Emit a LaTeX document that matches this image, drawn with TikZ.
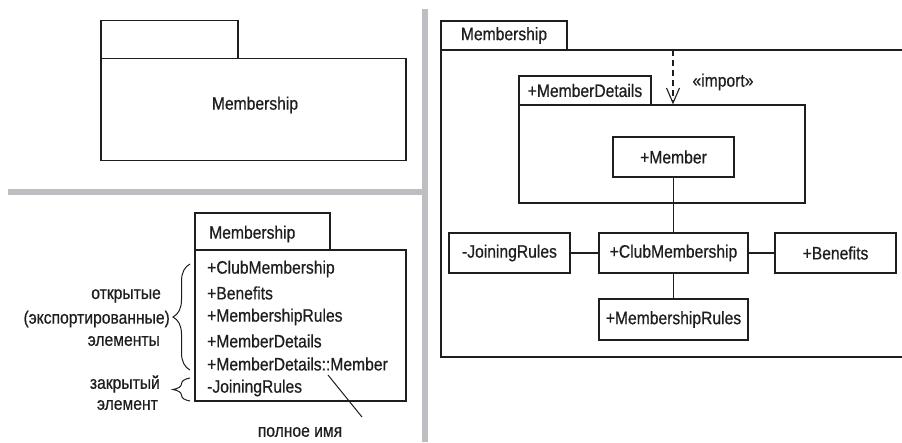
\documentclass[tikz,border=0pt]{standalone}
\usepackage{fontspec}
\setmainfont{Liberation Sans}[FakeStretch=0.87,FakeBold=0.6]
\usetikzlibrary{arrows.meta,decorations.pathreplacing}
\definecolor{ink}{HTML}{1E1E1E}
\definecolor{bar}{HTML}{BDBEC1}
\begin{document}
\begin{tikzpicture}[x=1pt,y=-1pt,
  every node/.style={text=ink,font=\fontsize{18}{21}\selectfont},
  box/.style={draw=ink,line width=1.3pt,fill=white,inner sep=0pt,minimum width=#1,minimum height=40pt},
  rect/.style 2 args={draw=ink,line width=1.3pt,inner sep=0pt,minimum width=#1,minimum height=#2},
  lbl/.style={inner sep=0pt},
  conn/.style={draw=ink,line width=1.2pt},
  bracestyle/.style={draw=ink,line width=1pt,decorate,decoration={brace,amplitude=17pt}}]
\useasboundingbox (0,0) rectangle (902,442);
% gray separators
\fill[bar] (422,9) rectangle (428,442);
\fill[bar] (8,189) rectangle (425,195);

% ---- top-left package
\node[rect={137pt}{38pt}] (tlTab) at (169.5,39.5) {};
\node[rect={305pt}{102pt}] (tlBody) at (253.5,109.5) {};
\node[lbl] (tlName) at (255,105) {Membership};

% ---- bottom-left package
\node[rect={135pt}{37pt}] (blTab) at (262.5,231.5) {};
\node[lbl,anchor=west] (blName) at (209,234) {Membership};
\node[rect={211pt}{151pt}] (blBody) at (300.5,325.5) {};
\node[lbl,anchor=west] (i1) at (207,269) {+ClubMembership};
\node[lbl,anchor=west] (i2) at (207,293) {+Benefits};
\node[lbl,anchor=west] (i3) at (207,317) {+MembershipRules};
\node[lbl,anchor=west] (i4) at (207,341) {+MemberDetails};
\node[lbl,anchor=west] (i5) at (207,364) {+MemberDetails::Member};
\node[lbl,anchor=west] (i6) at (207,388) {-JoiningRules};

\coordinate (b1bot) at (190,370);
\coordinate (b1top) at (190,264);
\draw[bracestyle] (b1bot) -- (b1top);
\coordinate (b2bot) at (190,401);
\coordinate (b2top) at (190,378);
\draw[bracestyle] (b2bot) -- (b2top);

\node[lbl,anchor=east] (o1) at (161,296) {открытые};
\node[lbl,anchor=east] (o2) at (170,319) {(экспортированные)};
\node[lbl,anchor=east] (o3) at (160,341) {элементы};
\node[lbl,anchor=east] (c1) at (160,384) {закрытый};
\node[lbl,anchor=east] (c2) at (158,405) {элемент};

\node[lbl] (full) at (300,432) {полное имя};
\coordinate (fullA) at (328,375);
\coordinate (fullB) at (362,417);
\draw[conn,line width=1pt] (fullA) -- (fullB);

% ---- right package
\node[rect={126pt}{29pt}] (rTab) at (504,35.5) {Membership};
\coordinate (rTR) at (903,50);
\coordinate (rTL) at (441,50);
\coordinate (rBL) at (441,357);
\coordinate (rBR) at (903,357);
\draw[conn,line width=1.3pt] (rTR) -- (rTL) -- (rBL) -- (rBR);

\node[rect={132pt}{29pt}] (mdTab) at (585,90.5) {+MemberDetails};
\node[rect={286pt}{98pt}] (mdBody) at (662,154) {};
\node[box=121pt] (member) at (673.5,157) {+Member};

\coordinate (imp) at (673,50);
\draw[conn,line width=1.1pt,dash pattern=on 6pt off 4pt,
  -{Straight Barb[length=15pt,width=13pt,line width=1.1pt]}] (imp) -- (imp |- mdBody.north);
\node[lbl] (import) at (723,82) {«import»};

\node[box=149pt] (club) at (673.5,253) {+ClubMembership};
\node[box=121pt] (join) at (509.5,253) {-JoiningRules};
\node[box=121pt] (ben) at (835.5,253) {+Benefits};
\node[box=149pt,minimum height=41pt] (rules) at (673.5,319.5) {+MembershipRules};

\draw[conn] (member.south) -- (club.north);
\draw[conn] (join.east) -- (club.west);
\draw[conn] (club.east) -- (ben.west);
\draw[conn] (club.south) -- (rules.north);
\end{tikzpicture}
\end{document}
